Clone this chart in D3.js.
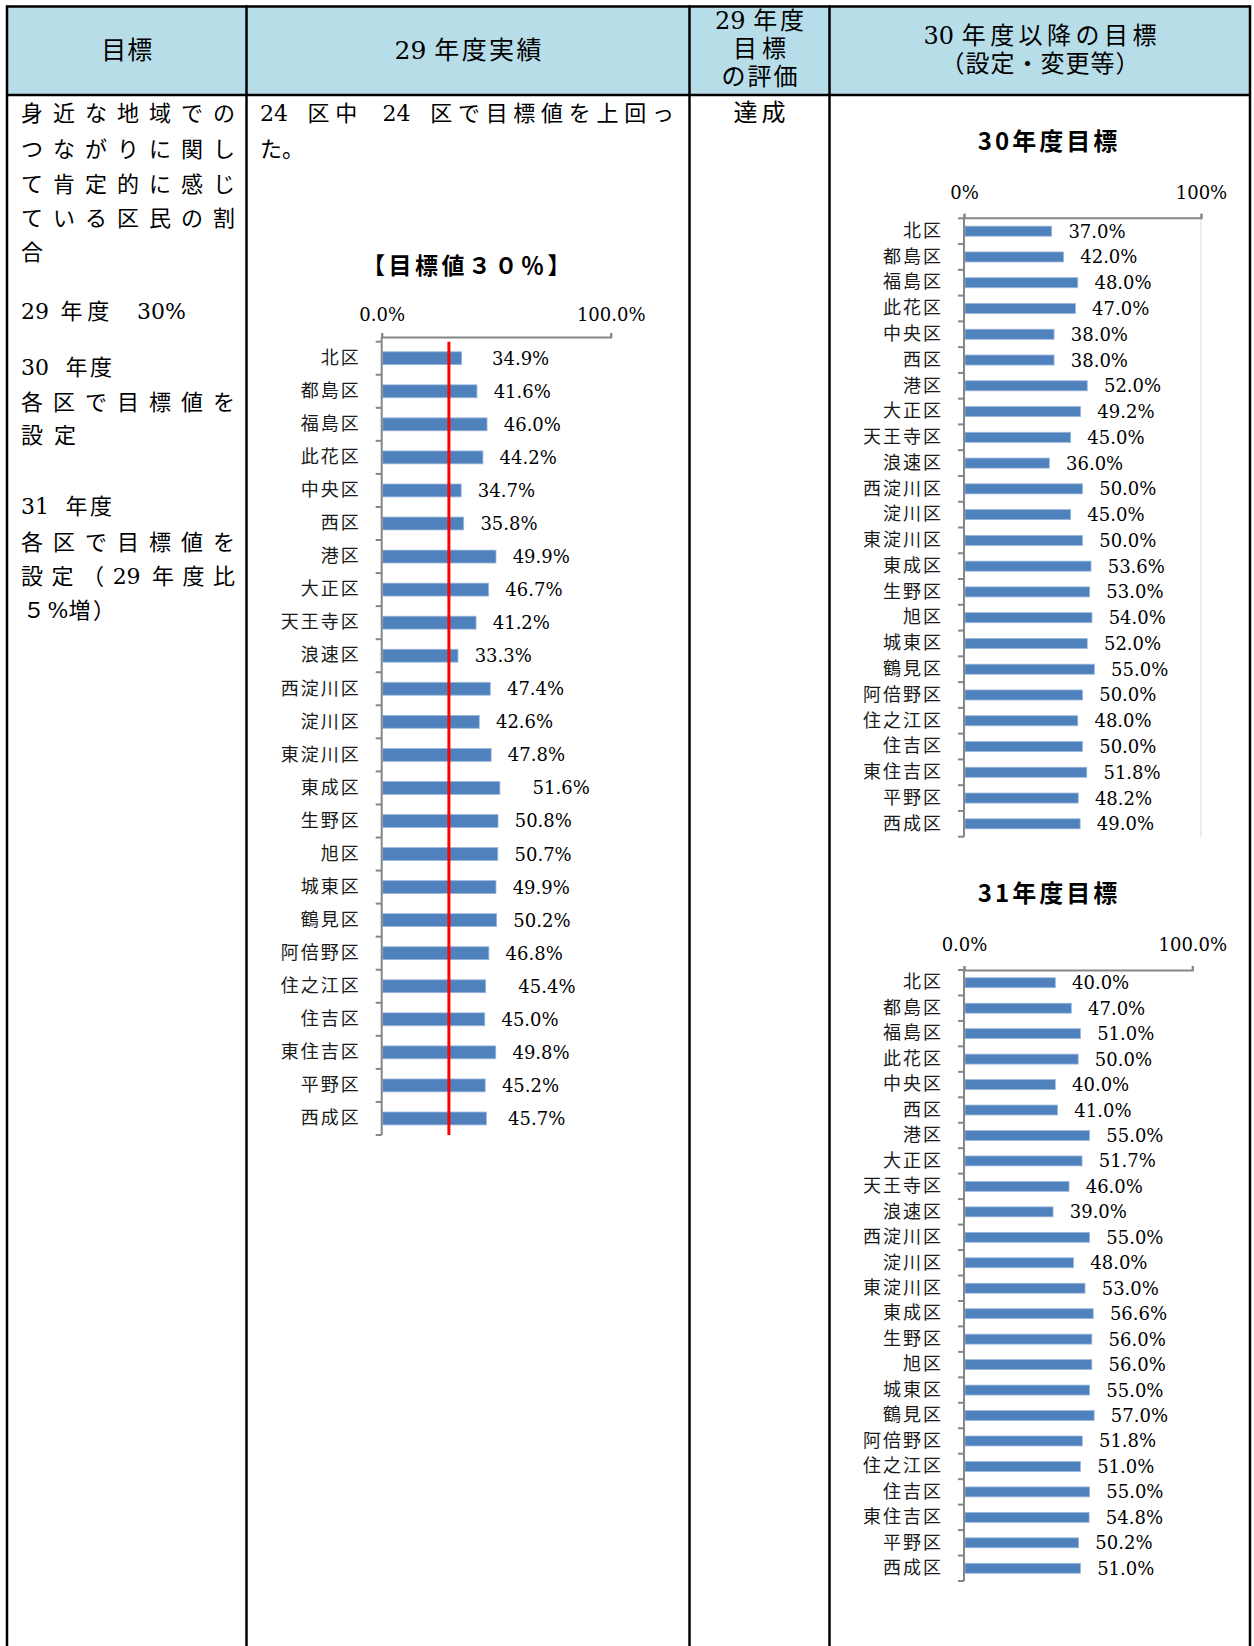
<!DOCTYPE html>
<html>
<head>
<meta charset="utf-8">
<title>身近な地域でのつながり 目標と実績</title>
<script src="https://d3js.org/d3.v7.min.js"></script>
<style>
  body { margin: 0; background: #fff; }
  svg { display: block; }
</style>
</head>
<body>
<div id="chart"></div>
<script>
// 区名（上から順）
var wards = ["北区", "都島区", "福島区", "此花区", "中央区", "西区", "港区", "大正区",
  "天王寺区", "浪速区", "西淀川区", "淀川区", "東淀川区", "東成区", "生野区", "旭区",
  "城東区", "鶴見区", "阿倍野区", "住之江区", "住吉区", "東住吉区", "平野区", "西成区"];

// 29年度実績 (%)
var result29 = [34.9, 41.6, 46.0, 44.2, 34.7, 35.8, 49.9, 46.7, 41.2, 33.3, 47.4, 42.6,
  47.8, 51.6, 50.8, 50.7, 49.9, 50.2, 46.8, 45.4, 45.0, 49.8, 45.2, 45.7];

// 30年度目標 (%)
var target30 = [37.0, 42.0, 48.0, 47.0, 38.0, 38.0, 52.0, 49.2, 45.0, 36.0, 50.0, 45.0,
  50.0, 53.6, 53.0, 54.0, 52.0, 55.0, 50.0, 48.0, 50.0, 51.8, 48.2, 49.0];

// 31年度目標 (%)
var target31 = [40.0, 47.0, 51.0, 50.0, 40.0, 41.0, 55.0, 51.7, 46.0, 39.0, 55.0, 48.0,
  53.0, 56.6, 56.0, 56.0, 55.0, 57.0, 51.8, 51.0, 55.0, 54.8, 50.2, 51.0];

var goal29 = 30;            // 29年度の目標値
var axisTicks = [0, 100];   // 軸の目盛

var W = 1254, H = 1646;
var CJK = "'Noto Sans CJK JP', sans-serif";
var SERIF = "'DejaVu Serif', 'Liberation Serif', serif";
var MIX = "'DejaVu Serif', 'Liberation Serif', 'Noto Sans CJK JP', serif";

var svg = d3.select("#chart").append("svg")
  .attr("width", W).attr("height", H)
  .style("background", "#fff");

// ---- 表の枠 ----
var colX = [7, 246.5, 689.5, 829.5, 1250];
var headTop = 6.5, headBottom = 95;

svg.append("rect")
  .attr("x", colX[0]).attr("y", headTop)
  .attr("width", colX[4] - colX[0]).attr("height", headBottom - headTop)
  .attr("fill", "#b7dde8");

var lines = svg.append("g").attr("stroke", "#000").attr("stroke-width", 2.5);
lines.append("line").attr("x1", colX[0]).attr("x2", colX[4]).attr("y1", headTop).attr("y2", headTop);
lines.append("line").attr("x1", colX[0]).attr("x2", colX[4]).attr("y1", headBottom).attr("y2", headBottom);
colX.forEach(function(x) {
  lines.append("line").attr("x1", x).attr("x2", x).attr("y1", headTop - 1.2).attr("y2", H);
});

// 全角文字（と空白）の字間を広げて、行を target の幅にそろえる
function txt(x, y, s, size, target, anchor, spaceW) {
  if (spaceW == null) spaceW = 1;
  var t = svg.append("text")
    .attr("y", y)
    .attr("font-family", MIX)
    .attr("font-size", size)
    .attr("fill", "#000")
    .attr("xml:space", "preserve");
  var chars = Array.from(s);
  function weight(c, i) {
    if (i === chars.length - 1) return 0;
    if (c === " ") return spaceW;
    return c.charCodeAt(0) > 255 ? 1 : 0;
  }
  // 同じ重みの文字をまとめて tspan にする
  var runs = [];
  chars.forEach(function(c, i) {
    var k = weight(c, i);
    var last = runs[runs.length - 1];
    if (last && last.k === k) last.t += c;
    else runs.push({t: c, k: k});
  });
  var spans = t.selectAll("tspan").data(runs).enter().append("tspan")
    .text(function(d) { return d.t; });
  var w0 = t.node().getComputedTextLength();
  var units = d3.sum(chars, weight);
  var ls = (target && units) ? Math.max(0, (target - w0) / units) : 0;
  spans.attr("letter-spacing", function(d) { return d.k * ls; });
  var w = target ? Math.max(target, w0) : w0;
  t.attr("x", anchor === "middle" ? x - w / 2 : x);
  return t;
}

// ---- 見出し ----
txt(126.7, 59, "目標", 25, 51, "middle", 0);
txt(468, 59, "29 年度実績", 25, 147, "middle", 0);
txt(759.5, 29, "29 年度", 24, 89, "middle", 0);
txt(759.5, 57, "目標", 24, 53, "middle", 0);
txt(759.5, 85, "の評価", 24, 76, "middle", 0);
txt(1040, 44, "30 年度以降の目標", 24, 233, "middle", 0);
txt(1040, 72, "（設定・変更等）", 24, 199, "middle", 0);

// ---- 左列 本文 ----
var leftX = 21, fullLen = 214;
txt(leftX, 121, "身近な地域での", 22, fullLen);
txt(leftX, 157, "つながりに関し", 22, fullLen);
txt(leftX, 192, "て肯定的に感じ", 22, fullLen);
txt(leftX, 226, "ている区民の割", 22, fullLen);
txt(leftX, 260, "合", 22);
txt(leftX, 319, "29 年度  30%", 22, 165, "start", 1);
txt(leftX, 375, "30 年度", 22, 91, "start", 4);
txt(leftX, 410, "各区で目標値を", 22, fullLen);
txt(leftX, 443, "設定", 22, 55);
txt(leftX, 514, "31 年度", 22, 91, "start", 4);
txt(leftX, 550, "各区で目標値を", 22, fullLen);
txt(leftX, 584, "設定（29 年度比", 22, fullLen, "start", 0.5);
txt(leftX + 2, 618, "５%増）", 22, 92);

// ---- 中央列 本文 ----
txt(260, 121, "24 区中 24 区で目標値を上回っ", 22, 414, "start", 2.2);
txt(260, 157, "た。", 22);

// ---- 評価 ----
txt(759.5, 121, "達成", 24, 52, "middle");

// ---- 棒グラフ ----
function drawBars(cfg) {
  var g = svg.append("g");
  var x = d3.scaleLinear().domain([0, 100]).range([cfg.x0, cfg.x1]);
  var y = d3.scaleBand().domain(wards).range([cfg.yTop, cfg.yBottom]).padding(0);
  var barH = y.bandwidth() * cfg.barFrac;

  // タイトル
  g.append("text")
    .attr("x", cfg.titleX).attr("y", cfg.titleY)
    .attr("text-anchor", "middle")
    .attr("font-family", CJK).attr("font-weight", 700)
    .attr("font-size", cfg.titleSize).attr("letter-spacing", cfg.titleLs)
    .text(cfg.title);

  // 100% の補助線
  if (cfg.grid) {
    g.append("line")
      .attr("x1", x(100)).attr("x2", x(100))
      .attr("y1", cfg.axisY).attr("y2", cfg.yBottom)
      .attr("stroke", "#d9d9d9").attr("stroke-width", 1);
  }

  // 値の軸（上）
  var xa = g.append("g")
    .attr("transform", "translate(0," + cfg.axisY + ")")
    .call(d3.axisTop(x).tickValues(axisTicks).tickSize(4).tickPadding(cfg.tickPad)
      .tickFormat(function(d) { return d3.format(cfg.fmt)(d) + "%"; }));
  xa.select(".domain").attr("stroke", "#868686").attr("stroke-width", 2);
  xa.selectAll(".tick line").attr("stroke", "#868686").attr("stroke-width", 2);
  xa.selectAll(".tick text")
    .attr("font-family", SERIF).attr("font-size", 18).attr("fill", "#000");

  // 棒
  g.selectAll("rect.bar")
    .data(cfg.values)
    .enter().append("rect")
    .attr("class", "bar")
    .attr("x", x(0) + 1)
    .attr("y", function(d, i) { return y(wards[i]) + (y.bandwidth() - barH) / 2; })
    .attr("width", function(d) { return x(d) - x(0) - 1; })
    .attr("height", barH)
    .attr("fill", "#4f81bd")
    .attr("stroke", "#9bb7dc").attr("stroke-width", 0.8);

  // 区分の軸（左）
  var ya = g.append("g")
    .attr("transform", "translate(" + x(0) + ",0)")
    .call(d3.axisLeft(y).tickSize(0).tickPadding(21));
  ya.select(".domain").remove();
  ya.selectAll(".tick text")
    .attr("font-family", CJK).attr("font-size", 18)
    .attr("letter-spacing", 2).attr("fill", "#1a1a1a");

  var bounds = wards.map(function(w) { return y(w); }).concat([cfg.yBottom]);
  g.append("line")
    .attr("x1", x(0)).attr("x2", x(0))
    .attr("y1", cfg.axisY).attr("y2", cfg.yBottom)
    .attr("stroke", "#868686").attr("stroke-width", 2);
  g.selectAll("line.ctick")
    .data(bounds)
    .enter().append("line")
    .attr("class", "ctick")
    .attr("x1", x(0) - 6).attr("x2", x(0))
    .attr("y1", function(d) { return d; }).attr("y2", function(d) { return d; })
    .attr("stroke", "#868686").attr("stroke-width", 2);

  // 目標値の線
  if (cfg.goal != null) {
    g.append("line")
      .attr("x1", x(cfg.goal) - 1.5).attr("x2", x(cfg.goal) - 1.5)
      .attr("y1", cfg.yTop).attr("y2", cfg.yBottom)
      .attr("stroke", "#ff0000").attr("stroke-width", 3);
  }

  // データラベル
  var nudge = cfg.nudge || {};
  g.selectAll("text.lbl")
    .data(cfg.values)
    .enter().append("text")
    .attr("class", "lbl")
    .attr("x", function(d, i) { return x(d) + 16.7 + (nudge[wards[i]] || 0); })
    .attr("y", function(d, i) { return y(wards[i]) + y.bandwidth() / 2 + 6.5; })
    .attr("font-family", SERIF).attr("font-size", 18)
    .attr("fill", "#000")
    .text(function(d) { return d3.format(".1f")(d) + "%"; });
}

// 29年度実績
drawBars({
  values: result29, x0: 381.7, x1: 610.7, yTop: 341.7, yBottom: 1135, axisY: 337,
  barFrac: 0.39, fmt: ".1f", tickPad: 12, goal: goal29, grid: false,
  title: "【目標値３０％】", titleX: 468, titleY: 274, titleSize: 23, titleLs: 3.5,
  nudge: {"北区": 13.7, "東成区": 16, "住之江区": 16, "西成区": 5}
});

// 30年度目標
drawBars({
  values: target30, x0: 964, x1: 1201, yTop: 218.3, yBottom: 836.7, axisY: 217.7,
  barFrac: 0.39, fmt: ".0f", tickPad: 15, goal: null, grid: true,
  title: "30年度目標", titleX: 1049, titleY: 150, titleSize: 24, titleLs: 3
});

// 31年度目標
drawBars({
  values: target31, x0: 964, x1: 1192.3, yTop: 970, yBottom: 1581, axisY: 970,
  barFrac: 0.39, fmt: ".1f", tickPad: 15, goal: null, grid: false,
  title: "31年度目標", titleX: 1049, titleY: 902, titleSize: 24, titleLs: 3
});
</script>
</body>
</html>
